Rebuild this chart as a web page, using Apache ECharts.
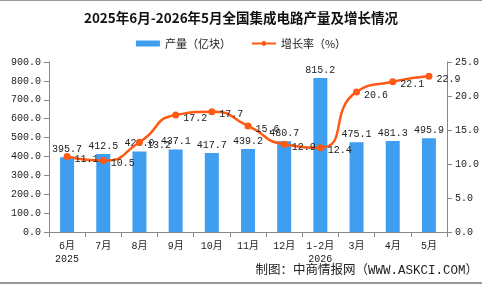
<!DOCTYPE html>
<html>
<head>
<meta charset="utf-8">
<style>
  html, body { margin: 0; padding: 0; background: #fff; }
  #main { width: 482px; height: 284px; }
</style>
<script src="https://cdn.jsdelivr.net/npm/echarts@6/dist/echarts.min.js"></script>
</head>
<body>
<div id="main"></div>
<script>
  var categories = ['6月\n2025', '7月', '8月', '9月', '10月', '11月', '12月', '1-2月\n2026', '3月', '4月', '5月'];
  var output = [395.7, 412.5, 426.0, 437.1, 417.7, 439.2, 480.7, 815.2, 475.1, 481.3, 495.9];
  var growth = [11.1, 10.5, 13.2, 17.2, 17.7, 15.6, 12.9, 12.4, 20.6, 22.1, 22.9];

  var font = '"Liberation Mono", "Noto Sans CJK SC", monospace';
  var chart = echarts.init(document.getElementById('main'));
  chart.setOption({
    animation: false,
    title: {
      text: '2025年6月-2026年5月全国集成电路产量及增长情况',
      left: 'center',
      top: 6,
      textStyle: { fontSize: 13.5, fontWeight: 'bold', color: '#111', fontFamily: '"Noto Sans CJK SC"' }
    },
    legend: {
      top: 33,
      left: 'center',
      itemGap: 20,
      itemWidth: 24,
      itemHeight: 6,
      textStyle: { fontSize: 11, color: '#222', fontFamily: '"Noto Sans CJK SC"' },
      data: [
        { name: '产量（亿块）', icon: 'rect' },
        { name: '增长率（%）' }
      ]
    },
    grid: { left: 49, right: 31, top: 62, bottom: 52 },
    xAxis: {
      type: 'category',
      data: categories,
      axisLine: { lineStyle: { color: '#888' } },
      axisTick: { show: true, alignWithLabel: false, lineStyle: { color: '#888' } },
      axisLabel: { color: '#222', fontSize: 10, fontFamily: font, lineHeight: 13, margin: 8, interval: 0 }
    },
    yAxis: [{
      type: 'value', min: 0, max: 900, interval: 100,
      axisLine: { show: true, lineStyle: { color: '#888' } },
      axisTick: { show: true, lineStyle: { color: '#888' } },
      splitLine: { show: false },
      axisLabel: { color: '#222', fontSize: 10, fontFamily: font, formatter: function (v) { return v.toFixed(1); } }
    }, {
      type: 'value', min: 0, max: 25, interval: 5,
      axisLine: { show: true, lineStyle: { color: '#888' } },
      axisTick: { show: true, lineStyle: { color: '#888' } },
      splitLine: { show: false },
      axisLabel: { color: '#222', fontSize: 10, fontFamily: font, formatter: function (v) { return v.toFixed(1); } }
    }],
    series: [{
      name: '产量（亿块）',
      type: 'bar',
      barWidth: 14,
      data: output,
      itemStyle: { color: '#3f9ef0' },
      label: {
        show: true, position: 'top', distance: 3,
        color: '#222', fontSize: 10, fontFamily: font,
        formatter: function (p) { return p.value.toFixed(1); }
      }
    }, {
      name: '增长率（%）',
      type: 'line',
      yAxisIndex: 1,
      smooth: 0.6,
      data: growth,
      symbol: 'circle',
      symbolSize: 7,
      lineStyle: { color: '#fe5a13', width: 2.5 },
      itemStyle: { color: '#fe5a13' },
      label: {
        show: true, position: 'right', distance: 4, offset: [0, 3],
        color: '#222', fontSize: 10, fontFamily: font,
        formatter: function (p) { return p.value.toFixed(1); }
      }
    }],
    graphic: [{
      type: 'rect', shape: { x: 0, y: 0, width: 482, height: 1 }, style: { fill: '#999' }
    }, {
      type: 'rect', shape: { x: 0, y: 282, width: 482, height: 2 }, style: { fill: '#999' }
    }, {
      type: 'text', right: 4, top: 264,
      style: { text: '制图：中商情报网（WWW.ASKCI.COM）', fontSize: 12.5, fill: '#222', fontFamily: font }
    }]
  });
</script>
</body>
</html>
